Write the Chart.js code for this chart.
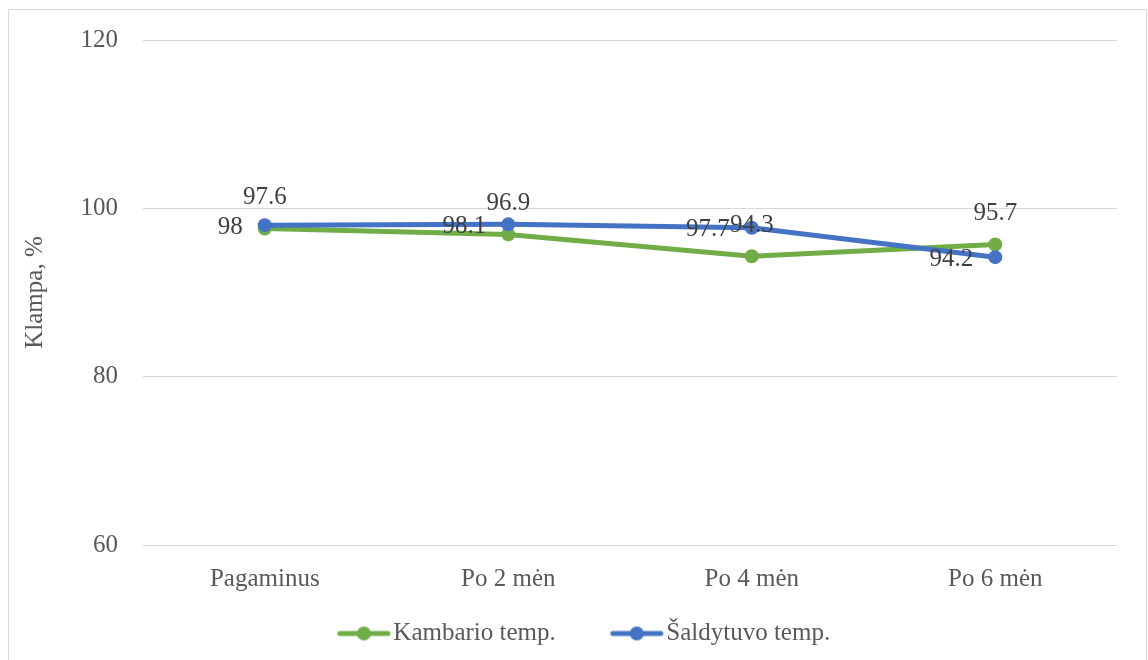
<!DOCTYPE html>
<html>
<head>
<meta charset="utf-8">
<script src="https://cdn.jsdelivr.net/npm/chart.js@4/dist/chart.umd.min.js"></script>
<style>
  html, body { margin: 0; padding: 0; background: #fff; }
  #wrap { width: 1148px; height: 660px; }
</style>
</head>
<body>
<div id="wrap"><canvas id="c" width="1148" height="660"></canvas></div>
<script>
// data
const categories = ['Pagaminus', 'Po 2 mėn', 'Po 4 mėn', 'Po 6 mėn'];
const kambarioValues = [97.6, 96.9, 94.3, 95.7];
const saldytuvoValues = [98, 98.1, 97.7, 94.2];
const yTicks = [60, 80, 100, 120];

const FONT = '"Liberation Serif", "Times New Roman", serif';
const FS = 25;
const GREEN = '#70ad47';
const BLUE = '#4472c4';

// legend marker: line with a dot; the empty left part gives the gap between items
function legendMarker(color) {
    const c = document.createElement('canvas');
    c.width = 106; c.height = 16;
    const ctx = c.getContext('2d');
    ctx.strokeStyle = color;
    ctx.lineWidth = 5;
    ctx.lineCap = 'round';
    ctx.beginPath();
    ctx.moveTo(54, 8); ctx.lineTo(102, 8);
    ctx.stroke();
    ctx.fillStyle = color;
    ctx.beginPath();
    ctx.arc(78, 8, 7, 0, Math.PI * 2);
    ctx.fill();
    return c;
}

const borderPlugin = {
    id: 'border',
    beforeDraw(chart) {
        const ctx = chart.ctx;
        ctx.save();
        ctx.strokeStyle = '#d9d9d9';
        ctx.lineWidth = 1;
        ctx.strokeRect(8.5, 9.5, 1138, 700);
        ctx.restore();
    }
};

const labelsPlugin = {
    id: 'valueLabels',
    afterDatasetsDraw(chart) {
        const ctx = chart.ctx;
        ctx.save();
        ctx.font = FS + 'px ' + FONT;
        ctx.fillStyle = '#404040';
        // green: above the point
        chart.getDatasetMeta(0).data.forEach((pt, i) => {
            ctx.textAlign = 'center';
            ctx.textBaseline = 'middle';
            ctx.fillText(String(kambarioValues[i]), pt.x, pt.y - 31);
        });
        // blue: left of the point
        chart.getDatasetMeta(1).data.forEach((pt, i) => {
            ctx.textAlign = 'right';
            ctx.textBaseline = 'middle';
            ctx.fillText(String(saldytuvoValues[i]), pt.x - 22, pt.y + 2);
        });
        ctx.restore();
    }
};

new Chart(document.getElementById('c'), {
    type: 'line',
    data: {
        labels: categories,
        datasets: [
            {
                label: 'Kambario temp.',
                data: kambarioValues,
                borderColor: GREEN,
                backgroundColor: GREEN,
                borderWidth: 5,
                pointRadius: 7,
                pointHoverRadius: 7,
                pointBorderWidth: 0,
                pointBackgroundColor: GREEN,
                tension: 0,
                order: 1
            },
            {
                label: 'Šaldytuvo temp.',
                data: saldytuvoValues,
                borderColor: BLUE,
                backgroundColor: BLUE,
                borderWidth: 5,
                pointRadius: 7,
                pointHoverRadius: 7,
                pointBorderWidth: 0,
                pointBackgroundColor: BLUE,
                tension: 0,
                order: 0
            }
        ]
    },
    options: {
        responsive: false,
        animation: false,
        layout: { padding: { left: 10, right: 31, top: 39, bottom: 4 } },
        scales: {
            x: {
                offset: true,
                grid: { display: false, drawTicks: false },
                border: { display: false },
                ticks: { color: '#595959', font: { family: FONT, size: FS }, padding: 19 },
                afterFit(scale) { scale.height = 62; }
            },
            y: {
                min: 60,
                max: 120,
                afterBuildTicks(scale) { scale.ticks = yTicks.map(v => ({ value: v })); },
                grid: { color: '#d9d9d9', lineWidth: 1, drawTicks: false },
                border: { display: false },
                ticks: { color: '#595959', font: { family: FONT, size: FS }, padding: 25 },
                title: {
                    display: true,
                    text: 'Klampa, %',
                    color: '#595959',
                    font: { family: FONT, size: FS },
                    padding: { top: 10, bottom: 0 }
                },
                afterFit(scale) { scale.width = 133; }
            }
        },
        plugins: {
            legend: {
                position: 'bottom',
                labels: {
                    color: '#595959',
                    font: { family: FONT, size: FS },
                    usePointStyle: true,
                    pointStyleWidth: 84,
                    boxHeight: 16,
                    padding: 14,
                    generateLabels(chart) {
                        return chart.data.datasets.map((ds, i) => ({
                            text: ds.label,
                            fillStyle: ds.borderColor,
                            strokeStyle: ds.borderColor,
                            fontColor: '#595959',
                            pointStyle: legendMarker(ds.borderColor),
                            datasetIndex: i,
                            hidden: false,
                            lineWidth: 0
                        }));
                    }
                }
            },
            tooltip: { enabled: false }
        }
    },
    plugins: [borderPlugin, labelsPlugin]
});
</script>
</body>
</html>
